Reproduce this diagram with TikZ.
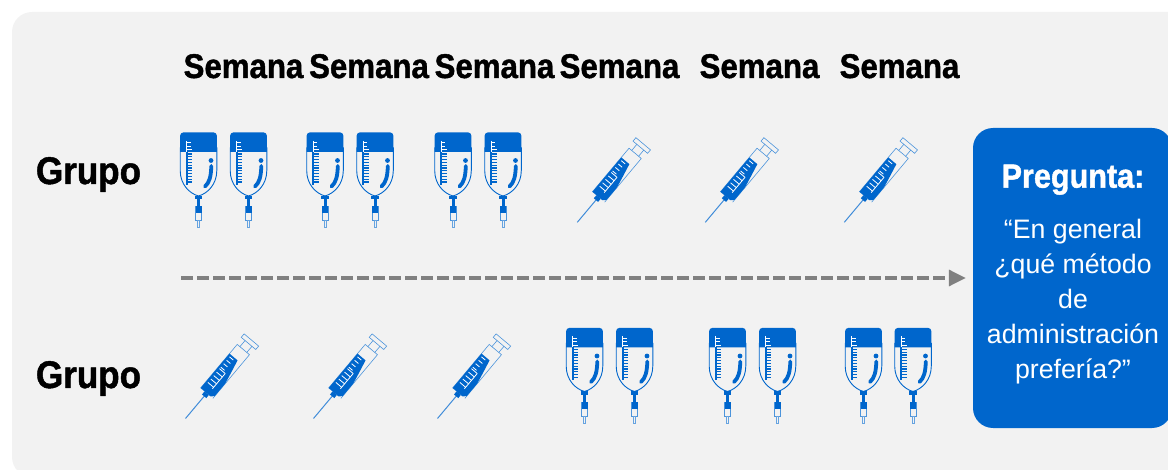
\documentclass[tikz,border=0pt]{standalone}
\usepackage{fontspec}
\setmainfont{Liberation Sans}
\newfontfamily\heavyfont{Liberation Sans Bold}[FakeBold=1.2, FakeStretch=0.91]
\usetikzlibrary{arrows.meta}
\definecolor{brandblue}{HTML}{0066CC}
\definecolor{panelgray}{HTML}{F2F2F2}
\definecolor{flowgray}{HTML}{808080}
\tikzset{
    weeklabel/.style={font=\fontsize{34.3}{38}\heavyfont, anchor=base, inner sep=0pt},
    grouplabel/.style={font=\fontsize{38.5}{42}\heavyfont, anchor=base, inner sep=0pt},
    questionbox/.style={rectangle, fill=brandblue, rounded corners=20pt, minimum width=199pt, minimum height=300pt, inner sep=0pt},
    questiontitle/.style={font=\fontsize{33.6}{38}\heavyfont, text=white, anchor=base, inner sep=0pt},
    questionbody/.style={font=\fontsize{26.7}{35}\selectfont, text=white, align=center, anchor=base, inner sep=0pt},
    flowline/.style={draw=flowgray, line width=3.3pt, dash pattern=on 12pt off 4pt, -{Triangle[length=17pt,width=16pt]}},
    bag/.pic={
        % bolsa
        \fill[brandblue] (-18.3,19.5) [rounded corners=3pt] -- (-18.3,0) -- (18.3,0) [sharp corners] -- (18.3,19.5) -- cycle;
        \draw[brandblue, line width=0.9pt] (-18.3,15) -- (-18.3,38) .. controls (-18.3,52) and (-9,61) .. (0,63.5) .. controls (9,61) and (18.3,52) .. (18.3,38) -- (18.3,15);
        % escala
        \draw[white, line width=1.2pt] (-11.8,8.5) -- (-11.8,19.5);
        \draw[white, line width=0.9pt] (-11.8,10) -- (-8,10) (-11.8,13.5) -- (-8,13.5) (-11.8,17) -- (-6.5,17);
        \draw[brandblue, line width=1.6pt] (-11.8,19.5) -- (-11.8,52.5);
        \foreach \ty in {21.5,24.3,...,51}
            \draw[brandblue, line width=1.2pt] (-11.8,\ty) -- (-6.5,\ty);
        % gota
        \fill[brandblue] (12.5,28) circle (2.4pt);
        \draw[brandblue, line width=3.8pt, line cap=round] (12.8,33.5) .. controls (12.5,44) and (11,50) .. (6.5,54);
        % conector
        \fill[brandblue] (-3.7,63.5) rectangle (3.7,67);
        \fill[brandblue] (-1.5,67) rectangle (1.5,77);
        \draw[brandblue!70, line width=0.8pt] (-3,74) rectangle (3,88);
        \fill[brandblue] (-3,74) rectangle (3,81);
        \draw[brandblue!60, line width=0.8pt] (-1,88) rectangle (1,95);
    },
    syringe/.pic={
        % aguja
        \draw[brandblue!75, line width=1pt] (0,0) -- (30,0);
        \fill[brandblue] (29,-2.8) rectangle (33,2.8);
        % cuerpo
        \draw[brandblue!70, line width=0.6pt] (33,-8) -- (90,-8) -- (90,8) -- (33,8);
        \fill[brandblue] (33,-8) -- (78,-8) -- (78,2.5) -- (62,6) -- (52,8) -- (36,8) -- (33,5) -- cycle;
        \foreach \tx in {42,46.5,...,60}
            \draw[white, line width=0.8pt] (\tx,-6) -- (\tx,1.5);
        \foreach \tx in {62,66.5,...,76}
            \draw[white, line width=0.8pt] (\tx,-6) -- (\tx,-1);
        \draw[white, line width=0.8pt] (40,1.5) -- (60,1.5);
        % embolo
        \draw[brandblue!70, line width=0.6pt] (90,-4.5) -- (98,-4.5) (90,4.5) -- (98,4.5);
        \draw[brandblue!70, line width=0.6pt] (98,-9.5) rectangle (102.5,9.5);
    }
}
\begin{document}
\begin{tikzpicture}[x=1pt, y=-1pt, >=stealth]
    \useasboundingbox (0,0) rectangle (1168,470);
    \clip (0,0) rectangle (1168,470);
    % fondo
    \fill[panelgray, rounded corners=20pt] (12,12) rectangle (1200,477);
    % semanas
    \node[weeklabel] (week1) at (243.5,78) {Semana};
    \node[weeklabel] (week2) at (369,78) {Semana};
    \node[weeklabel] (week3) at (494.5,78) {Semana};
    \node[weeklabel] (week4) at (619.5,78) {Semana};
    \node[weeklabel] (week5) at (759.5,78) {Semana};
    \node[weeklabel] (week6) at (899.5,78) {Semana};
    % grupos
    \node[grouplabel] (group1) at (88.5,184) {Grupo};
    \node[grouplabel] (group2) at (88.5,388) {Grupo};
    % primera fila
    \pic at (198.5,132.5) {bag};
    \pic at (248.5,132.5) {bag};
    \pic at (325,132.5) {bag};
    \pic at (375,132.5) {bag};
    \pic at (453,132.5) {bag};
    \pic at (503,132.5) {bag};
    \pic[rotate=50] at (577.3,222.3) {syringe};
    \pic[rotate=50] at (705.3,222.3) {syringe};
    \pic[rotate=50] at (844.3,222.3) {syringe};
    % segunda fila
    \pic[rotate=50] at (185.5,418.5) {syringe};
    \pic[rotate=50] at (313.5,418.5) {syringe};
    \pic[rotate=50] at (437.5,418.5) {syringe};
    \pic at (584.5,328) {bag};
    \pic at (634.5,328) {bag};
    \pic at (727.5,328) {bag};
    \pic at (777.5,328) {bag};
    \pic at (863.5,328) {bag};
    \pic at (913,328) {bag};
    % pregunta
    \node[questionbox] (question) at (1072.5,278) {};
    \node[questiontitle] (qtitle) at (1073,187.7) {Pregunta:};
    \node[questionbody] (qbody) at (1073,378) {“En general\\¿qué método\\de\\administración\\prefería?”};
    % flecha
    \coordinate (flowstart) at (181,278);
    \draw[flowline, shorten >=7pt] (flowstart) -- (question.west);
\end{tikzpicture}
\end{document}
